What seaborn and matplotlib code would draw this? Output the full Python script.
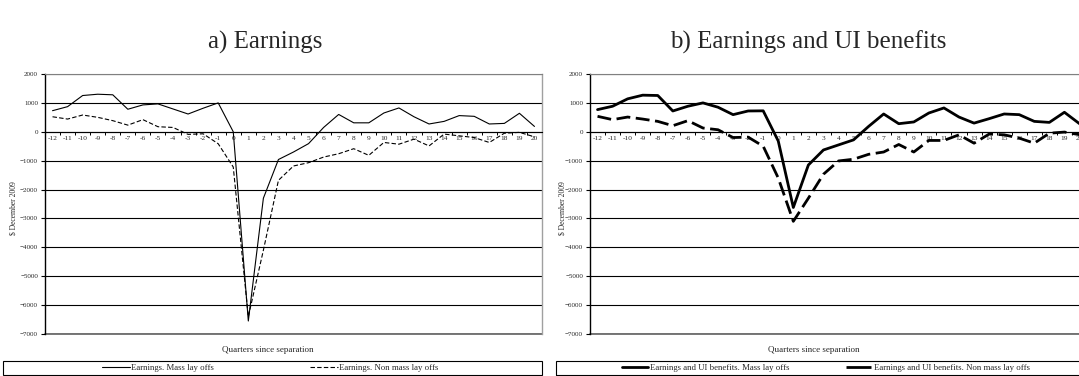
import numpy as np
import pandas as pd
import matplotlib
matplotlib.use("Agg")
import matplotlib.pyplot as plt
from matplotlib.patches import Rectangle
from matplotlib.lines import Line2D
import seaborn as sns

# quarters since separation
quarters = list(range(-12, 21))

# a) Earnings
earn_mass = [730, 870, 1255, 1300, 1280, 780, 930, 965, 790, 615, 815, 1000,
             0, -6550, -2300, -960, -700, -410, 150, 600, 310, 310, 650, 825,
             520, 270, 360, 560, 535, 270, 290, 640, 185]
earn_nonmass = [520, 440, 580, 500, 385, 230, 420, 175, 150, -90, -70, -414,
                -1220, -6400, -4100, -1680, -1184, -1070, -875, -760, -586, -816, -370, -430,
                -255, -490, -80, -140, -200, -370, -50, -20, -175]

# b) Earnings and UI benefits
ui_mass = [767, 884, 1140, 1267, 1256, 720, 884, 1000, 850, 593, 720, 725,
           -320, -2620, -1150, -630, -455, -280, 186, 616, 280, 340, 650, 825,
           510, 300, 453, 616, 593, 360, 325, 675, 280]
ui_nonmass = [535, 420, 510, 440, 360, 210, 385, 130, 70, -200, -185, -500,
              -1600, -3100, -2300, -1470, -1010, -950, -780, -700, -440, -700, -300, -300,
              -105, -395, -80, -105, -220, -395, -50, -10, -100]

labels_a = ["Earnings. Mass lay offs", "Earnings. Non mass lay offs"]
labels_b = ["Earnings and UI benefits. Mass lay offs",
            "Earnings and UI benefits. Non mass lay offs"]

sns.set_style("white")
plt.rcParams['font.family'] = ['Liberation Serif', 'DejaVu Serif']

W, H = 1079, 376
fig = plt.figure(figsize=(W / 100, H / 100), dpi=100)


def px(x0, y0, w, h):
    return [x0 / W, 1 - (y0 + h) / H, w / W, h / H]


def panel(rect, s1, s2, names, lw, dash):
    ax = fig.add_axes(rect)
    pos = np.arange(len(quarters))
    df = pd.DataFrame({
        "pos": np.concatenate([pos, pos]),
        "value": s1 + s2,
        "series": [names[0]] * len(pos) + [names[1]] * len(pos),
    })
    sns.lineplot(data=df, x="pos", y="value", style="series",
                 dashes={names[0]: "", names[1]: dash}, color="black",
                 linewidth=lw, legend=False, ax=ax)
    ax.set_xlim(-0.5, len(quarters) - 0.5)
    ax.set_ylim(-7000, 2000)
    ax.set_yticks(range(-7000, 2001, 1000))
    ax.grid(axis="y", color="black", linewidth=0.8)
    ax.grid(axis="x", visible=False)
    ax.set_axisbelow(True)
    ax.axhline(-7000, color="#606060", linewidth=1.2, clip_on=False, zorder=0)
    ax.tick_params(axis="y", which="major", direction="out", length=3, width=0.8,
                   labelsize=5, pad=2, color="black", left=True)
    # x axis sits on the zero line
    ax.spines["bottom"].set_position(("data", 0))
    ax.spines["bottom"].set_color("black")
    ax.spines["bottom"].set_linewidth(0.8)
    ax.spines["left"].set_color("black")
    ax.spines["left"].set_linewidth(1.0)
    ax.spines["top"].set_color("#808080")
    ax.spines["right"].set_color("#a0a0a0")
    ax.spines["right"].set_linewidth(1.0)
    ax.set_xticks(np.arange(len(quarters) + 1) - 0.5)
    ax.set_xticklabels([])
    ax.set_xticks(pos, minor=True)
    ax.set_xticklabels([str(q) for q in quarters], minor=True)
    ax.tick_params(axis="x", which="major", direction="out", length=2.5, width=0.7,
                   color="black", bottom=True)
    ax.tick_params(axis="x", which="minor", length=0, labelsize=5.3, pad=3, bottom=True)
    ax.set_xlabel("")
    ax.set_ylabel("")
    return ax


ax1 = panel(px(45, 74, 497, 260), earn_mass, earn_nonmass, labels_a, 0.8, (4, 2))
ax2 = panel(px(590, 74, 497, 260), ui_mass, ui_nonmass, labels_b, 2.0, (5, 2))

fig.text(265 / W, 1 - 42 / H, "a) Earnings", ha="center", va="center", fontsize=18)
fig.text(808 / W, 1 - 42 / H, "b) Earnings and UI benefits", ha="center", va="center",
         fontsize=18)

fig.text(14 / W, 1 - 208 / H, "$ December 2009", rotation=90, ha="center", va="center",
         fontsize=5.5)
fig.text(562 / W, 1 - 208 / H, "$ December 2009", rotation=90, ha="center", va="center",
         fontsize=5.5)
fig.text(268 / W, 1 - 350 / H, "Quarters since separation", ha="center", va="center",
         fontsize=6.5)
fig.text(814 / W, 1 - 350 / H, "Quarters since separation", ha="center", va="center",
         fontsize=6.5)

# legend boxes under each chart
for x0, x1 in [(3, 542), (556, 1090)]:
    fig.patches.append(Rectangle((x0 / W, 1 / H), (x1 - x0) / W, 14 / H,
                                 transform=fig.transFigure, fill=False,
                                 edgecolor="black", linewidth=0.8))

fig.legend(ax1.get_lines()[:2], labels_a, loc="center", bbox_to_anchor=(270 / W, 1 - 368 / H),
           ncol=2, frameon=False, fontsize=6.3, handlelength=3.2, handletextpad=0.1,
           columnspacing=11, borderaxespad=0)
ui_handles = [Line2D([], [], color="black", linewidth=2.0),
              Line2D([], [], color="black", linewidth=2.0, dashes=(9, 2))]
fig.legend(ui_handles, labels_b, loc="center", bbox_to_anchor=(826 / W, 1 - 368 / H),
           ncol=2, frameon=False, fontsize=6.3, handlelength=3.0, handletextpad=0.2,
           columnspacing=6.5, borderaxespad=0)

fig.savefig("out.png", dpi=100)
